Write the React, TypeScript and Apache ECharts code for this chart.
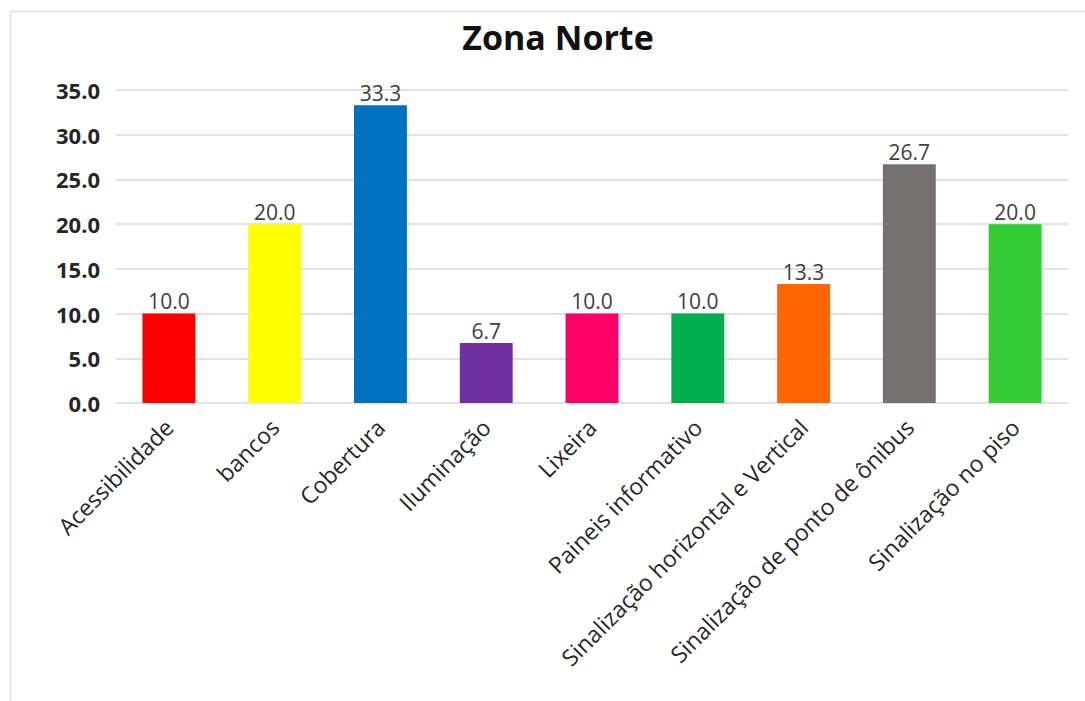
import React, { useEffect, useRef } from "react";
import * as echarts from "echarts";

const categories = [
  "Acessibilidade",
  "bancos",
  "Cobertura",
  "Iluminação",
  "Lixeira",
  "Paineis informativo",
  "Sinalização horizontal e Vertical",
  "Sinalização de ponto de ônibus",
  "Sinalização no piso",
];
const values = [10.0, 20.0, 33.3, 6.7, 10.0, 10.0, 13.3, 26.7, 20.0];
const barColors = [
  "#FF0000",
  "#FFFF00",
  "#0070C0",
  "#7030A0",
  "#FF0066",
  "#00B050",
  "#FF6600",
  "#767171",
  "#33CC33",
];
const titleText = "Zona Norte";

const FONT = "'Open Sans', 'Noto Sans', sans-serif";

export default function App() {
  const ref = useRef<HTMLDivElement>(null);

  useEffect(() => {
    if (!ref.current) return;
    const chart = echarts.init(ref.current, undefined, { renderer: "svg" });
    chart.setOption({
      animation: false,
      backgroundColor: "#ffffff",
      title: {
        text: titleText,
        left: 553,
        textAlign: "center",
        top: 15,
        textStyle: {
          fontFamily: FONT,
          fontSize: 34,
          fontWeight: "bold",
          color: "#111111",
        },
      },
      graphic: [
        {
          type: "polyline",
          shape: { points: [[10.5, 701], [10.5, 11.5], [1085, 11.5]] },
          style: { stroke: "#e2e2e2", lineWidth: 1.5, fill: "none" },
          silent: true,
        },
      ],
      grid: { left: 116, right: 17, top: 90, bottom: 298, containLabel: false },
      xAxis: {
        type: "category",
        data: categories,
        axisLine: { show: false },
        axisTick: { show: false },
        axisLabel: {
          interval: 0,
          rotate: 45,
          margin: 20,
          fontFamily: FONT,
          fontSize: 23,
          color: "#262626",
        },
      },
      yAxis: {
        type: "value",
        min: 0,
        max: 35,
        interval: 5,
        axisLine: { show: false },
        axisTick: { show: false },
        splitLine: { lineStyle: { color: "#d9d9d9", width: 1.5 } },
        axisLabel: {
          margin: 16,
          fontFamily: FONT,
          fontSize: 22,
          fontWeight: "bold",
          color: "#262626",
          formatter: (v: number) => v.toFixed(1),
        },
      },
      series: [
        {
          type: "bar",
          barWidth: "50%",
          data: values.map((v, i) => ({ value: v, itemStyle: { color: barColors[i] } })),
          label: {
            show: true,
            position: "top",
            distance: 2,
            fontFamily: FONT,
            fontSize: 21,
            color: "#404040",
            formatter: (p: any) => Number(p.value).toFixed(1),
          },
        },
      ],
    });
    return () => chart.dispose();
  }, []);

  return (
    <div
      ref={ref}
      style={{ position: "absolute", left: 0, top: 0, width: 1085, height: 701 }}
    />
  );
}
